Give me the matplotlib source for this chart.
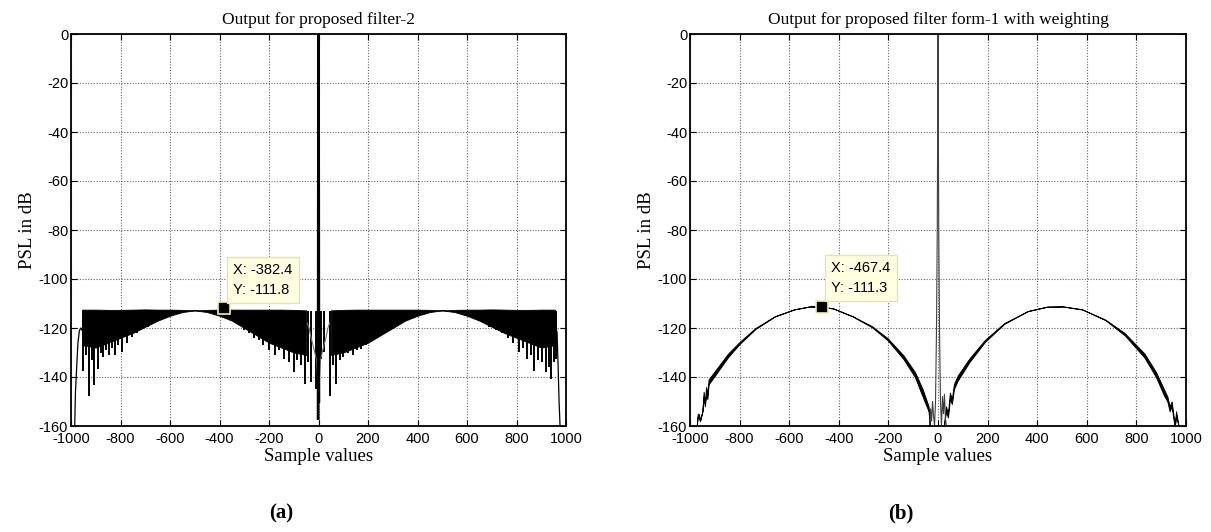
import numpy as np
import matplotlib
matplotlib.use("Agg")
import matplotlib.pyplot as plt

# ---- panel (a): proposed filter-2 (dense sidelobe band)
a_left_x = [-955, -900, -850, -800, -750, -700, -650, -600, -550, -500,
            -450, -400, -350, -300, -250, -200, -150, -100, -50]
a_left_top = [-112.5, -112.5, -112.6, -112.6, -112.5, -112.4, -112.5, -112.5, -112.6, -112.8,
              -112.6, -112.5, -112.5, -112.5, -112.5, -112.5, -112.5, -112.6, -112.8]
a_left_bot = [-127, -128, -126, -124, -122, -119.5, -117, -115, -113.5, -112.8,
              -113.5, -115, -117, -120, -123, -126, -128, -130, -131]
a_right_x = [50, 100, 150, 200, 250, 300, 350, 400, 450, 500,
             550, 600, 650, 700, 750, 800, 850, 900, 955]
a_right_top = [-112.8, -112.6, -112.5, -112.5, -112.5, -112.5, -112.5, -112.5, -112.6, -112.8,
               -112.6, -112.5, -112.5, -112.4, -112.5, -112.6, -112.6, -112.5, -112.5]
a_right_bot = [-131, -130, -128, -126, -123, -120, -117, -115, -113.5, -112.8,
               -113.5, -115, -117, -119.5, -122, -124, -126, -128, -127]

# deep notches below the band
a_spike_x = [-952, -940, -927, -915, -906, -890, -880, -870, -858, -847, -835, -824, -810,
             -793, -775, -755, -735, -716, -690,
             -300, -280, -261, -240, -223, -200, -177, -160, -138, -120, -100, -85, -69,
             -53, -42, -30, -10,
             10, 24, 47, 60, 70, 85, 101, 120, 140, 155, 170, 190, 217, 235, 255, 286,
             690, 718, 740, 764, 785, 810, 825, 841, 858, 872, 888, 903, 921, 933, 941,
             950, 961]
a_spike_y = [-137.4, -131, -147.8, -133, -143.2, -136.7, -130, -131.8, -129, -131, -128, -131, -127,
             -129.8, -126, -123.5, -122, -120.7, -119.5,
             -120.7, -122, -124.2, -125, -127, -129, -131, -129, -132.5, -134, -138, -133, -135.3,
             -143, -134, -142.2, -145,
             -132.5, -129.8, -147.8, -135, -143, -133, -131.8, -130, -131, -129, -128.4, -127,
             -124.2, -123, -122, -120,
             -119.5, -120.7, -122, -124.2, -126, -129.8, -128, -132.5, -131, -137.4, -133, -134,
             -138, -136, -141, -134, -132.5]

a_edge_l_x = [-985, -982, -978, -972, -966, -960, -955]
a_edge_l_y = [-160, -146, -138, -126, -121, -120, -121]
a_edge_r_x = [955, 960, 964, 968, 972, 976]
a_edge_r_y = [-121, -120, -122, -135, -150, -160]

a_mid_x = [-45, -38, -30, -22, -15, -8, -4, 4, 8, 15, 22, 30, 38, 45]
a_mid_y = [-118, -120, -124, -127, -130, -133, -140, -140, -133, -130, -127, -124, -120, -118]

a_peak_x = [-1.5, 0, 1.5]
a_peak_y = [-157, 0, -150]

a_tip = (-382.4, -111.8)

# ---- panel (b): proposed filter form-1 with weighting
b_left_x = [-973, -968, -964, -960, -950, -945, -940, -935, -930, -925, -893, -846, -799,
            -736, -658, -580, -517, -473, -423, -344, -266, -203, -140, -93, -62, -38, -33]
b_left_hi = [-160, -155, -155.4, -158, -154, -146, -151, -144, -147, -141, -136.7, -130.4, -125.6,
             -120, -115.2, -112.4, -111.2, -111.3, -112, -115.2, -119.3, -124.2, -131.1, -138, -145,
             -152, -160]
b_left_lo = [-160, -155, -155.4, -158, -154, -148, -152, -147, -149, -143, -138.5, -131.8, -126.4,
             -120.4, -115.3, -112.4, -111.2, -111.3, -112, -115.3, -119.7, -125, -132.6, -140, -148,
             -154, -160]

b_right_x = [24, 32, 40, 48, 56, 64, 79, 126, 189, 267, 362, 440, 503, 581, 675, 753, 832,
             879, 911, 925, 934, 942, 950, 955, 960, 965, 970]
b_right_hi = [-160, -152, -155, -146.4, -149, -143, -139.5, -132.5, -124.9, -118, -113.1, -111.3,
              -111.2, -112.4, -116.6, -122.1, -130.4, -138, -145, -148, -152, -150, -156, -160,
              -154, -157, -160]
b_right_lo = [-160, -154, -156.5, -149, -151, -145, -141.5, -134, -125.7, -118.3, -113.1, -111.3,
              -111.2, -112.4, -116.8, -123, -132, -140, -147.5, -150, -154, -152, -157.5, -160,
              -155.5, -158, -160]

b_mid_x = [-33, -30, -26, -22, -18, -14, -10, -6, -3, -1, 0, 1, 3, 6, 10, 14, 18, 22, 26, 30, 34]
b_mid_y = [-160, -153, -158, -150, -156, -160, -150, -120, -80, -30, 0, -30, -80, -120, -150,
           -160, -148, -155, -147, -157, -160]

b_tip = (-467.4, -111.3)

xticks = list(range(-1000, 1001, 200))
yticks = list(range(-160, 1, 20))

serif = ["Liberation Serif", "DejaVu Serif"]
sans = ["Liberation Sans", "DejaVu Sans"]
plt.rcParams["font.family"] = sans
plt.rcParams["axes.unicode_minus"] = False

fig = plt.figure(figsize=(12.11, 5.32), dpi=100)
axA = fig.add_axes([71 / 1211, 106 / 532, 495 / 1211, 392 / 532])
axB = fig.add_axes([690 / 1211, 106 / 532, 496 / 1211, 392 / 532])


def style_axes(ax, title):
    ax.set_xlim(-1000, 1000)
    ax.set_ylim(-160, 0)
    ax.set_xticks(xticks)
    ax.set_yticks(yticks)
    ax.grid(True, color="0.4", linestyle=(0, (1, 1.5)), linewidth=0.8)
    ax.set_axisbelow(True)
    ax.tick_params(direction="in", top=True, right=True, length=4, width=0.8,
                   labelsize=10.5, pad=2)
    ax.tick_params(axis="x", pad=4.5)
    for sp in ax.spines.values():
        sp.set_linewidth(1.3)
    ax.set_title(title, family=serif, fontsize=12.5, pad=7)
    ax.set_xlabel("Sample values", family=serif, fontsize=13.5, labelpad=1)
    ax.set_ylabel("PSL in dB", family=serif, fontsize=13.5, labelpad=2)


def datatip(ax, pt, box_xy):
    ax.plot([pt[0]], [pt[1]], marker="s", markersize=8, color="black",
            markeredgecolor="#f3efb0", markeredgewidth=1.2, zorder=6)
    ax.text(box_xy[0], box_xy[1], "X: %.1f\nY: %.1f" % pt, fontsize=10.5,
            va="top", ha="left", linespacing=1.5, zorder=7,
            bbox=dict(boxstyle="square,pad=0.45", facecolor="#ffffe1",
                      edgecolor="#e6e2b8", linewidth=1))


# panel (a)
style_axes(axA, "Output for proposed filter-2")
axA.fill_between(a_left_x, a_left_top, a_left_bot, color="black", linewidth=0.6)
axA.fill_between(a_right_x, a_right_top, a_right_bot, color="black", linewidth=0.6)
axA.vlines(a_spike_x, -113, a_spike_y, color="black", linewidth=1.4)
axA.plot(a_edge_l_x, a_edge_l_y, color="black", linewidth=0.9)
axA.plot(a_edge_r_x, a_edge_r_y, color="black", linewidth=0.9)
axA.plot(a_mid_x, a_mid_y, color="0.45", linewidth=0.8)
axA.plot(a_peak_x, a_peak_y, color="black", linewidth=2)
datatip(axA, a_tip, (-345, -93.5))

# panel (b)
style_axes(axB, "Output for proposed filter form-1 with weighting")
axB.fill_between(b_left_x, b_left_hi, b_left_lo, color="black", linewidth=0.7)
axB.fill_between(b_right_x, b_right_hi, b_right_lo, color="black", linewidth=0.7)
axB.plot(b_mid_x, b_mid_y, color="0.25", linewidth=0.8)
datatip(axB, b_tip, (-430, -92.8))

fig.text(281 / 1211, 1 - 513 / 532, "(a)", family=serif, fontsize=15,
         fontweight="bold", ha="center", va="center")
fig.text(901 / 1211, 1 - 513 / 532, "(b)", family=serif, fontsize=15,
         fontweight="bold", ha="center", va="center")

fig.savefig("out.png", dpi=100, facecolor="white")
